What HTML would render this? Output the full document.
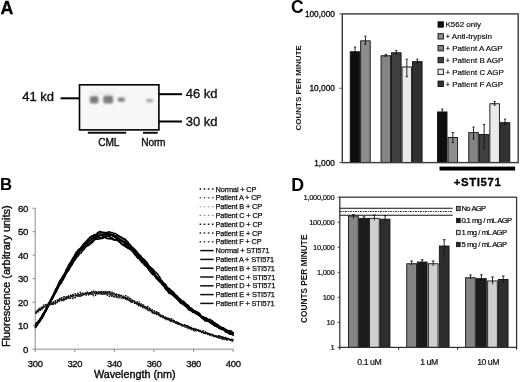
<!DOCTYPE html>
<html><head><meta charset="utf-8"><style>
html,body{margin:0;padding:0;background:#fff;}
body{width:520px;height:382px;overflow:hidden;}
svg{display:block;font-family:"Liberation Sans", sans-serif;}
</style></head><body>
<svg width="520" height="382" viewBox="0 0 520 382">
<defs><filter id="gb" x="0" y="0" width="100%" height="100%"><feGaussianBlur stdDeviation="0.3"/></filter></defs>
<g filter="url(#gb)">
<rect width="520" height="382" fill="#fff"/>
<text x="0.50" y="14.00" font-size="17.8" text-anchor="start" font-weight="bold" fill="#000" stroke="#000" stroke-width="0.3">A</text>
<text x="22.30" y="100.80" font-size="13.0" text-anchor="start" font-weight="normal" fill="#111" stroke="#111" stroke-width="0.35">41 kd</text>
<line x1="60.50" y1="98.30" x2="79.50" y2="98.30" stroke="#000" stroke-width="2.0" />
<rect x="79.50" y="84.80" width="79.40" height="45.10" fill="#f7f7f7" stroke="#000" stroke-width="1.6" />
<defs><filter id="bl" x="-50%" y="-50%" width="200%" height="200%"><feGaussianBlur stdDeviation="1.1"/></filter><filter id="bl2" x="-50%" y="-50%" width="200%" height="200%"><feGaussianBlur stdDeviation="0.9"/></filter></defs>
<g filter="url(#bl)">
<rect x="89.9" y="96.0" width="8.6" height="7.6" rx="2" fill="#7a7a7a"/>
<rect x="103.3" y="95.6" width="9.8" height="8.0" rx="2" fill="#7b7b7b"/>
<rect x="117.6" y="97.4" width="7.4" height="4.4" rx="1.8" fill="#7e7e7e"/>
<rect x="146.0" y="98.9" width="7.2" height="3.3" rx="1.4" fill="#a2a2a2"/>
<rect x="89" y="92" width="25" height="3" fill="#ececec"/>
</g>
<line x1="158.90" y1="94.20" x2="182.00" y2="94.20" stroke="#000" stroke-width="2.0" />
<line x1="158.90" y1="121.50" x2="182.00" y2="121.50" stroke="#000" stroke-width="2.0" />
<text x="185.80" y="98.00" font-size="13.0" text-anchor="start" font-weight="normal" fill="#111" stroke="#111" stroke-width="0.35">46 kd</text>
<text x="185.80" y="126.20" font-size="13.0" text-anchor="start" font-weight="normal" fill="#111" stroke="#111" stroke-width="0.35">30 kd</text>
<line x1="87.80" y1="132.80" x2="126.20" y2="132.80" stroke="#111" stroke-width="2.0" />
<line x1="143.00" y1="132.80" x2="157.70" y2="132.80" stroke="#111" stroke-width="2.0" />
<text x="98.30" y="145.60" font-size="10.2" text-anchor="start" font-weight="normal" fill="#111" stroke="#111" stroke-width="0.35" letter-spacing="-0.2">CML</text>
<text x="141.30" y="145.60" font-size="10.2" text-anchor="start" font-weight="normal" fill="#111" stroke="#111" stroke-width="0.35" letter-spacing="-0.2">Norm</text>
<text x="0.10" y="190.10" font-size="16.8" text-anchor="start" font-weight="bold" fill="#000" >B</text>
<line x1="35.20" y1="208.20" x2="35.20" y2="349.20" stroke="#8a8a8a" stroke-width="1" />
<line x1="35.20" y1="349.20" x2="233.20" y2="349.20" stroke="#8a8a8a" stroke-width="1" />
<line x1="32.50" y1="349.20" x2="35.20" y2="349.20" stroke="#8a8a8a" stroke-width="1" />
<text x="28.20" y="352.60" font-size="9.6" text-anchor="end" font-weight="normal" fill="#111" stroke="#111" stroke-width="0.35" letter-spacing="-0.2">0</text>
<line x1="32.50" y1="325.70" x2="35.20" y2="325.70" stroke="#8a8a8a" stroke-width="1" />
<text x="28.20" y="329.10" font-size="9.6" text-anchor="end" font-weight="normal" fill="#111" stroke="#111" stroke-width="0.35" letter-spacing="-0.2">10</text>
<line x1="32.50" y1="302.20" x2="35.20" y2="302.20" stroke="#8a8a8a" stroke-width="1" />
<text x="28.20" y="305.60" font-size="9.6" text-anchor="end" font-weight="normal" fill="#111" stroke="#111" stroke-width="0.35" letter-spacing="-0.2">20</text>
<line x1="32.50" y1="278.70" x2="35.20" y2="278.70" stroke="#8a8a8a" stroke-width="1" />
<text x="28.20" y="282.10" font-size="9.6" text-anchor="end" font-weight="normal" fill="#111" stroke="#111" stroke-width="0.35" letter-spacing="-0.2">30</text>
<line x1="32.50" y1="255.20" x2="35.20" y2="255.20" stroke="#8a8a8a" stroke-width="1" />
<text x="28.20" y="258.60" font-size="9.6" text-anchor="end" font-weight="normal" fill="#111" stroke="#111" stroke-width="0.35" letter-spacing="-0.2">40</text>
<line x1="32.50" y1="231.70" x2="35.20" y2="231.70" stroke="#8a8a8a" stroke-width="1" />
<text x="28.20" y="235.10" font-size="9.6" text-anchor="end" font-weight="normal" fill="#111" stroke="#111" stroke-width="0.35" letter-spacing="-0.2">50</text>
<line x1="32.50" y1="208.20" x2="35.20" y2="208.20" stroke="#8a8a8a" stroke-width="1" />
<text x="28.20" y="211.60" font-size="9.6" text-anchor="end" font-weight="normal" fill="#111" stroke="#111" stroke-width="0.35" letter-spacing="-0.2">60</text>
<line x1="35.20" y1="349.20" x2="35.20" y2="352.00" stroke="#8a8a8a" stroke-width="1" />
<text x="35.20" y="366.70" font-size="9.4" text-anchor="middle" font-weight="normal" fill="#111" stroke="#111" stroke-width="0.35" letter-spacing="-0.3">300</text>
<line x1="74.80" y1="349.20" x2="74.80" y2="352.00" stroke="#8a8a8a" stroke-width="1" />
<text x="74.80" y="366.70" font-size="9.4" text-anchor="middle" font-weight="normal" fill="#111" stroke="#111" stroke-width="0.35" letter-spacing="-0.3">320</text>
<line x1="114.40" y1="349.20" x2="114.40" y2="352.00" stroke="#8a8a8a" stroke-width="1" />
<text x="114.40" y="366.70" font-size="9.4" text-anchor="middle" font-weight="normal" fill="#111" stroke="#111" stroke-width="0.35" letter-spacing="-0.3">340</text>
<line x1="154.00" y1="349.20" x2="154.00" y2="352.00" stroke="#8a8a8a" stroke-width="1" />
<text x="154.00" y="366.70" font-size="9.4" text-anchor="middle" font-weight="normal" fill="#111" stroke="#111" stroke-width="0.35" letter-spacing="-0.3">360</text>
<line x1="193.60" y1="349.20" x2="193.60" y2="352.00" stroke="#8a8a8a" stroke-width="1" />
<text x="193.60" y="366.70" font-size="9.4" text-anchor="middle" font-weight="normal" fill="#111" stroke="#111" stroke-width="0.35" letter-spacing="-0.3">380</text>
<line x1="233.20" y1="349.20" x2="233.20" y2="352.00" stroke="#8a8a8a" stroke-width="1" />
<text x="233.20" y="366.70" font-size="9.4" text-anchor="middle" font-weight="normal" fill="#111" stroke="#111" stroke-width="0.35" letter-spacing="-0.3">400</text>
<text x="134.80" y="378.20" font-size="10.8" text-anchor="middle" font-weight="normal" fill="#111" stroke="#111" stroke-width="0.4">Wavelength (nm)</text>
<text transform="translate(10.2,276.3) rotate(-90)" font-size="10.9" text-anchor="middle" fill="#111" stroke="#111" stroke-width="0.4">Fluorescence (arbitrary units)</text>
<path d="M35.30,327.23 L36.30,325.44 L37.29,323.91 L38.29,323.06 L39.28,321.69 L40.28,320.08 L41.28,319.07 L42.27,317.56 L43.27,315.44 L44.26,313.59 L45.26,312.12 L46.26,310.48 L47.25,308.08 L48.25,306.10 L49.24,303.94 L50.24,301.66 L51.24,298.87 L52.23,297.48 L53.23,295.35 L54.22,294.36 L55.22,293.09 L56.22,291.89 L57.21,289.17 L58.21,287.62 L59.20,285.67 L60.20,283.83 L61.20,281.49 L62.19,280.48 L63.19,278.51 L64.18,276.44 L65.18,275.05 L66.18,273.58 L67.17,272.04 L68.17,271.06 L69.16,269.48 L70.16,267.37 L71.16,266.11 L72.15,264.56 L73.15,262.19 L74.14,260.93 L75.14,260.02 L76.14,257.94 L77.13,256.85 L78.13,256.02 L79.12,254.43 L80.12,253.42 L81.12,253.10 L82.11,251.14 L83.11,250.02 L84.10,249.44 L85.10,247.59 L86.09,246.62 L87.09,246.17 L88.09,245.56 L89.08,245.10 L90.08,244.18 L91.07,243.31 L92.07,242.52 L93.07,241.72 L94.06,240.16 L95.06,239.71 L96.05,239.11 L97.05,239.25 L98.05,239.30 L99.04,238.94 L100.04,238.60 L101.03,238.72 L102.03,237.43 L103.03,236.69 L104.02,237.09 L105.02,237.85 L106.01,237.88 L107.01,238.58 L108.01,238.71 L109.00,238.79 L110.00,239.07 L110.99,238.85 L111.99,239.11 L112.99,239.69 L113.98,240.07 L114.98,239.78 L115.97,239.92 L116.97,240.48 L117.97,240.66 L118.96,241.68 L119.96,242.57 L120.95,243.58 L121.95,244.47 L122.95,245.17 L123.94,245.82 L124.94,246.29 L125.93,247.29 L126.93,247.32 L127.93,248.40 L128.92,248.19 L129.92,248.28 L130.91,248.84 L131.91,249.92 L132.91,250.81 L133.90,253.31 L134.90,254.77 L135.89,255.67 L136.89,257.13 L137.89,258.31 L138.88,258.44 L139.88,259.76 L140.87,261.37 L141.87,262.60 L142.87,263.12 L143.86,264.28 L144.86,265.51 L145.85,265.96 L146.85,267.00 L147.85,268.22 L148.84,269.77 L149.84,270.98 L150.83,272.57 L151.83,273.39 L152.83,274.81 L153.82,274.80 L154.82,275.41 L155.81,276.64 L156.81,277.15 L157.81,278.63 L158.80,279.83 L159.80,281.64 L160.79,282.25 L161.79,284.44 L162.79,285.22 L163.78,286.35 L164.78,287.57 L165.77,289.49 L166.77,290.17 L167.77,291.02 L168.76,292.54 L169.76,292.66 L170.75,293.49 L171.75,294.26 L172.75,295.30 L173.74,295.98 L174.74,297.04 L175.73,297.02 L176.73,298.62 L177.73,299.46 L178.72,301.01 L179.72,302.12 L180.71,303.18 L181.71,303.40 L182.71,304.06 L183.70,304.49 L184.70,305.13 L185.69,306.06 L186.69,306.41 L187.68,307.07 L188.68,308.45 L189.68,309.07 L190.67,309.50 L191.67,310.87 L192.66,312.43 L193.66,311.91 L194.66,312.77 L195.65,313.60 L196.65,313.45 L197.64,313.83 L198.64,315.03 L199.64,315.77 L200.63,316.35 L201.63,317.83 L202.62,317.94 L203.62,318.50 L204.62,318.63 L205.61,319.04 L206.61,319.96 L207.60,320.55 L208.60,321.29 L209.60,322.26 L210.59,323.12 L211.59,322.96 L212.58,323.95 L213.58,324.26 L214.58,324.75 L215.57,325.46 L216.57,326.64 L217.56,327.19 L218.56,327.98 L219.56,328.34 L220.55,328.31 L221.55,328.73 L222.54,329.35 L223.54,329.66 L224.54,330.60 L225.53,331.94 L226.53,332.40 L227.52,332.89 L228.52,333.27 L229.52,334.15 L230.51,333.87 L231.51,334.38 L232.50,334.72 L233.50,335.74" fill="none" stroke="#050505" stroke-width="1.55" stroke-linejoin="round"/>
<path d="M35.30,328.00 L36.30,325.55 L37.29,323.56 L38.29,322.78 L39.28,321.26 L40.28,318.64 L41.28,317.49 L42.27,315.88 L43.27,313.83 L44.26,312.74 L45.26,311.47 L46.26,309.09 L47.25,307.26 L48.25,305.22 L49.24,302.82 L50.24,301.50 L51.24,300.19 L52.23,298.57 L53.23,296.72 L54.22,295.22 L55.22,292.83 L56.22,290.68 L57.21,288.75 L58.21,286.97 L59.20,285.48 L60.20,284.12 L61.20,283.33 L62.19,280.94 L63.19,279.73 L64.18,277.77 L65.18,275.86 L66.18,272.86 L67.17,271.45 L68.17,269.69 L69.16,268.00 L70.16,266.37 L71.16,265.15 L72.15,264.13 L73.15,262.28 L74.14,259.99 L75.14,258.22 L76.14,256.16 L77.13,253.17 L78.13,251.62 L79.12,251.56 L80.12,250.55 L81.12,249.61 L82.11,249.27 L83.11,248.75 L84.10,247.27 L85.10,246.26 L86.09,245.71 L87.09,245.16 L88.09,244.19 L89.08,243.54 L90.08,242.85 L91.07,241.81 L92.07,241.33 L93.07,240.20 L94.06,239.86 L95.06,238.83 L96.05,238.71 L97.05,238.12 L98.05,237.54 L99.04,237.46 L100.04,238.19 L101.03,237.86 L102.03,237.97 L103.03,238.46 L104.02,236.83 L105.02,236.36 L106.01,236.52 L107.01,236.32 L108.01,235.89 L109.00,236.87 L110.00,236.90 L110.99,237.56 L111.99,237.91 L112.99,238.60 L113.98,239.58 L114.98,239.82 L115.97,239.67 L116.97,239.35 L117.97,240.40 L118.96,240.73 L119.96,241.82 L120.95,242.79 L121.95,244.12 L122.95,244.30 L123.94,244.56 L124.94,244.89 L125.93,245.44 L126.93,246.74 L127.93,247.70 L128.92,248.62 L129.92,249.38 L130.91,250.04 L131.91,251.02 L132.91,251.96 L133.90,252.99 L134.90,254.08 L135.89,254.94 L136.89,255.39 L137.89,256.58 L138.88,257.50 L139.88,258.63 L140.87,260.05 L141.87,261.23 L142.87,261.48 L143.86,262.67 L144.86,263.59 L145.85,265.13 L146.85,265.97 L147.85,267.91 L148.84,269.70 L149.84,271.05 L150.83,271.67 L151.83,273.18 L152.83,274.12 L153.82,274.37 L154.82,275.78 L155.81,277.86 L156.81,278.82 L157.81,279.86 L158.80,280.95 L159.80,282.00 L160.79,281.91 L161.79,282.68 L162.79,284.28 L163.78,285.39 L164.78,286.71 L165.77,288.73 L166.77,290.25 L167.77,291.00 L168.76,293.03 L169.76,293.56 L170.75,293.78 L171.75,294.16 L172.75,294.94 L173.74,295.71 L174.74,297.05 L175.73,297.84 L176.73,298.93 L177.73,299.62 L178.72,300.07 L179.72,300.52 L180.71,301.79 L181.71,303.04 L182.71,303.93 L183.70,304.63 L184.70,305.57 L185.69,306.25 L186.69,307.10 L187.68,308.64 L188.68,309.62 L189.68,310.30 L190.67,310.45 L191.67,311.13 L192.66,310.46 L193.66,310.44 L194.66,311.41 L195.65,312.95 L196.65,313.42 L197.64,314.16 L198.64,315.18 L199.64,315.27 L200.63,315.88 L201.63,317.36 L202.62,318.67 L203.62,319.13 L204.62,319.55 L205.61,319.90 L206.61,319.61 L207.60,319.70 L208.60,320.60 L209.60,321.17 L210.59,322.15 L211.59,323.15 L212.58,324.51 L213.58,324.84 L214.58,325.98 L215.57,326.08 L216.57,326.09 L217.56,326.11 L218.56,326.34 L219.56,326.16 L220.55,327.02 L221.55,327.61 L222.54,328.32 L223.54,329.66 L224.54,330.07 L225.53,330.02 L226.53,330.66 L227.52,331.23 L228.52,331.24 L229.52,332.74 L230.51,333.61 L231.51,333.62 L232.50,333.65 L233.50,334.59" fill="none" stroke="#050505" stroke-width="1.55" stroke-linejoin="round"/>
<path d="M35.30,328.03 L36.30,326.27 L37.29,325.43 L38.29,322.94 L39.28,322.16 L40.28,319.98 L41.28,319.13 L42.27,317.34 L43.27,316.17 L44.26,312.80 L45.26,310.99 L46.26,308.99 L47.25,306.98 L48.25,305.54 L49.24,304.51 L50.24,302.42 L51.24,300.00 L52.23,298.45 L53.23,296.15 L54.22,293.94 L55.22,292.15 L56.22,290.36 L57.21,288.26 L58.21,285.90 L59.20,284.22 L60.20,283.04 L61.20,280.70 L62.19,279.26 L63.19,277.69 L64.18,275.51 L65.18,273.70 L66.18,272.32 L67.17,271.15 L68.17,269.37 L69.16,268.20 L70.16,266.09 L71.16,264.35 L72.15,262.37 L73.15,261.03 L74.14,259.57 L75.14,258.13 L76.14,256.53 L77.13,254.83 L78.13,253.53 L79.12,252.33 L80.12,250.70 L81.12,249.88 L82.11,248.06 L83.11,247.17 L84.10,245.29 L85.10,243.92 L86.09,242.95 L87.09,243.15 L88.09,241.44 L89.08,240.63 L90.08,240.30 L91.07,239.17 L92.07,238.24 L93.07,237.92 L94.06,237.52 L95.06,237.54 L96.05,237.24 L97.05,236.86 L98.05,236.44 L99.04,235.94 L100.04,234.72 L101.03,235.54 L102.03,235.08 L103.03,235.43 L104.02,235.82 L105.02,236.57 L106.01,235.87 L107.01,236.80 L108.01,236.39 L109.00,235.93 L110.00,235.65 L110.99,235.32 L111.99,235.13 L112.99,236.16 L113.98,236.74 L114.98,236.97 L115.97,237.77 L116.97,238.48 L117.97,237.54 L118.96,238.66 L119.96,239.35 L120.95,240.51 L121.95,240.17 L122.95,241.84 L123.94,241.75 L124.94,242.53 L125.93,243.44 L126.93,245.00 L127.93,245.79 L128.92,246.91 L129.92,247.44 L130.91,247.67 L131.91,248.28 L132.91,249.38 L133.90,250.68 L134.90,252.00 L135.89,253.17 L136.89,254.22 L137.89,255.84 L138.88,257.70 L139.88,259.19 L140.87,260.03 L141.87,261.15 L142.87,261.54 L143.86,261.66 L144.86,262.84 L145.85,263.90 L146.85,265.33 L147.85,266.69 L148.84,268.26 L149.84,269.38 L150.83,270.67 L151.83,271.23 L152.83,272.34 L153.82,273.18 L154.82,274.50 L155.81,275.93 L156.81,276.90 L157.81,278.15 L158.80,278.95 L159.80,279.73 L160.79,280.71 L161.79,281.51 L162.79,282.60 L163.78,284.26 L164.78,285.49 L165.77,286.49 L166.77,288.19 L167.77,288.79 L168.76,289.64 L169.76,290.48 L170.75,291.68 L171.75,292.32 L172.75,293.77 L173.74,294.88 L174.74,295.98 L175.73,296.70 L176.73,298.30 L177.73,298.46 L178.72,299.47 L179.72,300.49 L180.71,301.64 L181.71,302.42 L182.71,303.65 L183.70,304.18 L184.70,305.15 L185.69,306.00 L186.69,306.71 L187.68,307.14 L188.68,308.21 L189.68,309.17 L190.67,310.13 L191.67,310.86 L192.66,311.56 L193.66,312.42 L194.66,312.59 L195.65,311.88 L196.65,312.61 L197.64,313.30 L198.64,313.07 L199.64,313.52 L200.63,315.66 L201.63,316.00 L202.62,317.31 L203.62,319.13 L204.62,320.61 L205.61,320.67 L206.61,321.31 L207.60,321.29 L208.60,320.91 L209.60,321.02 L210.59,321.79 L211.59,322.49 L212.58,323.94 L213.58,324.46 L214.58,324.82 L215.57,325.49 L216.57,326.22 L217.56,326.79 L218.56,327.78 L219.56,328.21 L220.55,328.59 L221.55,328.49 L222.54,327.94 L223.54,328.53 L224.54,329.15 L225.53,329.65 L226.53,329.89 L227.52,330.91 L228.52,330.96 L229.52,331.15 L230.51,330.65 L231.51,331.70 L232.50,332.72 L233.50,333.62" fill="none" stroke="#050505" stroke-width="1.55" stroke-linejoin="round"/>
<path d="M35.30,326.28 L36.30,325.19 L37.29,323.93 L38.29,322.69 L39.28,322.32 L40.28,320.86 L41.28,319.15 L42.27,317.52 L43.27,315.14 L44.26,313.06 L45.26,311.49 L46.26,310.23 L47.25,308.14 L48.25,306.48 L49.24,304.72 L50.24,303.01 L51.24,300.55 L52.23,299.18 L53.23,297.02 L54.22,295.02 L55.22,292.66 L56.22,291.02 L57.21,289.01 L58.21,286.95 L59.20,284.85 L60.20,283.13 L61.20,280.82 L62.19,278.18 L63.19,277.12 L64.18,275.72 L65.18,273.96 L66.18,272.22 L67.17,271.23 L68.17,269.09 L69.16,267.55 L70.16,265.43 L71.16,263.65 L72.15,261.76 L73.15,260.03 L74.14,258.34 L75.14,257.17 L76.14,255.67 L77.13,254.19 L78.13,252.90 L79.12,251.63 L80.12,250.06 L81.12,248.96 L82.11,248.12 L83.11,247.77 L84.10,247.02 L85.10,246.21 L86.09,245.44 L87.09,244.62 L88.09,243.03 L89.08,241.31 L90.08,240.57 L91.07,239.94 L92.07,238.56 L93.07,237.49 L94.06,236.79 L95.06,236.46 L96.05,235.63 L97.05,235.44 L98.05,235.65 L99.04,235.97 L100.04,235.40 L101.03,235.57 L102.03,235.17 L103.03,234.87 L104.02,234.29 L105.02,234.71 L106.01,234.56 L107.01,234.66 L108.01,234.76 L109.00,235.14 L110.00,235.19 L110.99,234.93 L111.99,235.11 L112.99,235.40 L113.98,236.59 L114.98,237.05 L115.97,237.93 L116.97,238.92 L117.97,240.17 L118.96,239.86 L119.96,240.02 L120.95,241.04 L121.95,241.61 L122.95,241.87 L123.94,242.50 L124.94,243.95 L125.93,244.88 L126.93,245.72 L127.93,246.57 L128.92,246.98 L129.92,247.49 L130.91,247.83 L131.91,248.75 L132.91,249.73 L133.90,251.25 L134.90,251.56 L135.89,252.78 L136.89,253.49 L137.89,254.26 L138.88,255.28 L139.88,256.80 L140.87,257.11 L141.87,258.85 L142.87,260.17 L143.86,261.85 L144.86,263.73 L145.85,265.61 L146.85,265.86 L147.85,266.69 L148.84,267.16 L149.84,267.58 L150.83,268.78 L151.83,269.89 L152.83,271.45 L153.82,272.52 L154.82,273.93 L155.81,275.03 L156.81,276.69 L157.81,277.70 L158.80,279.12 L159.80,279.96 L160.79,280.58 L161.79,281.76 L162.79,283.44 L163.78,285.28 L164.78,286.94 L165.77,288.72 L166.77,289.57 L167.77,290.48 L168.76,290.87 L169.76,291.46 L170.75,292.15 L171.75,293.37 L172.75,293.76 L173.74,294.71 L174.74,295.35 L175.73,296.26 L176.73,297.85 L177.73,298.87 L178.72,299.71 L179.72,301.09 L180.71,302.29 L181.71,302.10 L182.71,302.90 L183.70,304.08 L184.70,304.81 L185.69,305.43 L186.69,307.04 L187.68,307.67 L188.68,308.17 L189.68,308.68 L190.67,309.84 L191.67,309.50 L192.66,310.22 L193.66,310.74 L194.66,311.80 L195.65,312.22 L196.65,313.92 L197.64,314.31 L198.64,315.37 L199.64,315.72 L200.63,315.98 L201.63,316.35 L202.62,317.18 L203.62,316.93 L204.62,317.52 L205.61,317.87 L206.61,318.10 L207.60,319.09 L208.60,320.40 L209.60,321.58 L210.59,322.55 L211.59,322.84 L212.58,323.06 L213.58,323.24 L214.58,322.94 L215.57,323.68 L216.57,324.50 L217.56,324.66 L218.56,325.69 L219.56,326.57 L220.55,327.07 L221.55,327.83 L222.54,329.16 L223.54,329.48 L224.54,330.41 L225.53,330.95 L226.53,331.56 L227.52,332.01 L228.52,332.07 L229.52,332.16 L230.51,332.47 L231.51,332.93 L232.50,332.91 L233.50,334.37" fill="none" stroke="#050505" stroke-width="1.55" stroke-linejoin="round"/>
<path d="M35.30,325.88 L36.30,324.15 L37.29,323.10 L38.29,321.92 L39.28,320.62 L40.28,318.80 L41.28,317.38 L42.27,316.00 L43.27,315.37 L44.26,313.11 L45.26,311.44 L46.26,309.38 L47.25,307.51 L48.25,304.44 L49.24,302.77 L50.24,301.05 L51.24,299.14 L52.23,296.67 L53.23,295.00 L54.22,292.56 L55.22,290.19 L56.22,288.47 L57.21,286.94 L58.21,285.13 L59.20,283.35 L60.20,281.78 L61.20,280.31 L62.19,278.57 L63.19,276.75 L64.18,275.20 L65.18,273.74 L66.18,271.47 L67.17,269.11 L68.17,267.11 L69.16,266.15 L70.16,264.31 L71.16,263.21 L72.15,261.80 L73.15,260.77 L74.14,258.51 L75.14,256.85 L76.14,255.80 L77.13,254.77 L78.13,252.88 L79.12,251.70 L80.12,250.55 L81.12,248.87 L82.11,247.25 L83.11,245.68 L84.10,244.53 L85.10,243.39 L86.09,242.04 L87.09,241.72 L88.09,241.54 L89.08,241.09 L90.08,239.95 L91.07,239.49 L92.07,239.10 L93.07,238.64 L94.06,237.89 L95.06,237.81 L96.05,237.66 L97.05,236.24 L98.05,235.58 L99.04,235.34 L100.04,235.27 L101.03,234.31 L102.03,234.55 L103.03,234.37 L104.02,234.18 L105.02,233.85 L106.01,233.62 L107.01,233.57 L108.01,234.05 L109.00,233.83 L110.00,233.98 L110.99,234.81 L111.99,234.72 L112.99,234.79 L113.98,235.11 L114.98,235.96 L115.97,236.93 L116.97,238.43 L117.97,238.80 L118.96,239.94 L119.96,240.18 L120.95,240.05 L121.95,240.54 L122.95,240.86 L123.94,241.69 L124.94,242.38 L125.93,243.61 L126.93,243.97 L127.93,245.04 L128.92,245.66 L129.92,246.84 L130.91,247.31 L131.91,248.38 L132.91,249.42 L133.90,249.62 L134.90,250.71 L135.89,251.99 L136.89,252.95 L137.89,254.24 L138.88,256.41 L139.88,257.07 L140.87,257.74 L141.87,258.77 L142.87,260.30 L143.86,260.66 L144.86,262.38 L145.85,263.58 L146.85,264.46 L147.85,265.67 L148.84,267.30 L149.84,267.65 L150.83,268.93 L151.83,270.80 L152.83,271.96 L153.82,273.03 L154.82,274.77 L155.81,276.29 L156.81,276.92 L157.81,277.79 L158.80,279.05 L159.80,279.86 L160.79,280.57 L161.79,281.92 L162.79,282.90 L163.78,283.81 L164.78,284.92 L165.77,286.52 L166.77,287.62 L167.77,288.94 L168.76,290.56 L169.76,291.92 L170.75,293.31 L171.75,293.95 L172.75,294.91 L173.74,295.37 L174.74,296.74 L175.73,297.49 L176.73,298.04 L177.73,298.36 L178.72,299.59 L179.72,300.12 L180.71,300.68 L181.71,302.17 L182.71,303.49 L183.70,304.32 L184.70,304.85 L185.69,305.75 L186.69,305.81 L187.68,306.65 L188.68,306.86 L189.68,307.96 L190.67,308.29 L191.67,309.48 L192.66,310.12 L193.66,310.87 L194.66,310.95 L195.65,311.20 L196.65,312.17 L197.64,312.88 L198.64,314.20 L199.64,315.11 L200.63,316.63 L201.63,317.29 L202.62,317.72 L203.62,318.20 L204.62,319.21 L205.61,319.36 L206.61,319.87 L207.60,320.44 L208.60,320.87 L209.60,320.80 L210.59,321.83 L211.59,322.35 L212.58,323.13 L213.58,323.38 L214.58,324.36 L215.57,324.70 L216.57,325.24 L217.56,326.31 L218.56,327.25 L219.56,328.27 L220.55,328.99 L221.55,329.44 L222.54,329.17 L223.54,329.72 L224.54,329.67 L225.53,329.89 L226.53,330.54 L227.52,330.59 L228.52,330.89 L229.52,330.64 L230.51,331.27 L231.51,331.65 L232.50,332.54 L233.50,333.06" fill="none" stroke="#050505" stroke-width="1.55" stroke-linejoin="round"/>
<path d="M35.30,324.87 L36.30,323.02 L37.29,322.45 L38.29,321.11 L39.28,320.05 L40.28,318.63 L41.28,317.36 L42.27,315.07 L43.27,313.66 L44.26,311.88 L45.26,311.06 L46.26,309.23 L47.25,307.54 L48.25,305.41 L49.24,303.55 L50.24,301.06 L51.24,299.37 L52.23,297.41 L53.23,296.34 L54.22,293.63 L55.22,291.69 L56.22,289.79 L57.21,287.77 L58.21,285.07 L59.20,283.68 L60.20,281.44 L61.20,279.30 L62.19,278.27 L63.19,276.99 L64.18,274.87 L65.18,273.18 L66.18,271.19 L67.17,268.95 L68.17,266.56 L69.16,264.94 L70.16,263.76 L71.16,262.45 L72.15,260.37 L73.15,258.65 L74.14,256.80 L75.14,254.76 L76.14,252.30 L77.13,251.18 L78.13,249.91 L79.12,249.16 L80.12,248.63 L81.12,248.42 L82.11,246.62 L83.11,245.92 L84.10,245.03 L85.10,243.18 L86.09,241.53 L87.09,240.92 L88.09,239.28 L89.08,238.55 L90.08,237.27 L91.07,236.50 L92.07,235.78 L93.07,235.59 L94.06,234.63 L95.06,234.94 L96.05,234.75 L97.05,234.77 L98.05,233.82 L99.04,233.45 L100.04,232.88 L101.03,232.77 L102.03,232.32 L103.03,232.57 L104.02,232.29 L105.02,232.72 L106.01,232.80 L107.01,232.58 L108.01,233.59 L109.00,234.64 L110.00,234.13 L110.99,234.34 L111.99,235.59 L112.99,235.51 L113.98,235.22 L114.98,236.00 L115.97,236.17 L116.97,235.80 L117.97,235.89 L118.96,236.60 L119.96,237.12 L120.95,237.77 L121.95,238.12 L122.95,238.97 L123.94,239.19 L124.94,240.02 L125.93,241.27 L126.93,242.58 L127.93,243.61 L128.92,244.89 L129.92,245.88 L130.91,246.47 L131.91,247.24 L132.91,248.31 L133.90,248.89 L134.90,250.33 L135.89,251.45 L136.89,252.39 L137.89,253.11 L138.88,254.35 L139.88,255.12 L140.87,256.04 L141.87,257.78 L142.87,258.86 L143.86,259.54 L144.86,260.45 L145.85,261.24 L146.85,262.08 L147.85,263.84 L148.84,265.94 L149.84,266.96 L150.83,268.54 L151.83,270.30 L152.83,271.27 L153.82,272.26 L154.82,274.18 L155.81,276.35 L156.81,277.37 L157.81,278.47 L158.80,279.72 L159.80,280.72 L160.79,280.90 L161.79,281.29 L162.79,282.37 L163.78,283.06 L164.78,283.94 L165.77,285.23 L166.77,287.34 L167.77,288.11 L168.76,289.40 L169.76,290.40 L170.75,291.52 L171.75,292.12 L172.75,293.22 L173.74,293.98 L174.74,294.49 L175.73,295.02 L176.73,295.80 L177.73,296.89 L178.72,297.74 L179.72,299.03 L180.71,300.20 L181.71,301.06 L182.71,301.72 L183.70,302.79 L184.70,303.18 L185.69,303.63 L186.69,304.77 L187.68,305.07 L188.68,305.82 L189.68,307.21 L190.67,308.21 L191.67,308.20 L192.66,309.59 L193.66,310.41 L194.66,311.03 L195.65,311.27 L196.65,312.16 L197.64,312.60 L198.64,313.10 L199.64,313.86 L200.63,315.29 L201.63,316.26 L202.62,317.01 L203.62,318.09 L204.62,319.00 L205.61,319.77 L206.61,320.53 L207.60,321.24 L208.60,321.50 L209.60,321.98 L210.59,321.79 L211.59,322.00 L212.58,322.46 L213.58,322.96 L214.58,322.73 L215.57,323.44 L216.57,323.92 L217.56,324.91 L218.56,325.88 L219.56,326.93 L220.55,327.69 L221.55,327.98 L222.54,328.36 L223.54,328.51 L224.54,329.26 L225.53,330.39 L226.53,331.16 L227.52,331.10 L228.52,331.44 L229.52,331.33 L230.51,330.95 L231.51,331.89 L232.50,332.95 L233.50,333.27" fill="none" stroke="#050505" stroke-width="1.55" stroke-linejoin="round"/>
<path d="M35.30,326.67 L36.30,325.08 L37.29,323.37 L38.29,322.26 L39.28,321.22 L40.28,320.03 L41.28,318.67 L42.27,316.96 L43.27,314.42 L44.26,312.25 L45.26,310.19 L46.26,307.85 L47.25,306.08 L48.25,304.57 L49.24,302.45 L50.24,300.89 L51.24,299.29 L52.23,297.17 L53.23,295.62 L54.22,294.28 L55.22,292.01 L56.22,289.14 L57.21,286.93 L58.21,284.58 L59.20,282.04 L60.20,280.06 L61.20,279.23 L62.19,277.38 L63.19,275.28 L64.18,274.29 L65.18,272.24 L66.18,269.68 L67.17,268.07 L68.17,266.74 L69.16,264.15 L70.16,262.78 L71.16,261.29 L72.15,259.27 L73.15,257.56 L74.14,256.39 L75.14,254.40 L76.14,253.12 L77.13,251.89 L78.13,251.24 L79.12,249.42 L80.12,248.68 L81.12,247.29 L82.11,246.05 L83.11,244.26 L84.10,243.62 L85.10,242.53 L86.09,241.65 L87.09,240.56 L88.09,239.30 L89.08,238.35 L90.08,237.37 L91.07,236.96 L92.07,236.59 L93.07,236.45 L94.06,236.18 L95.06,235.54 L96.05,234.21 L97.05,233.32 L98.05,232.21 L99.04,231.91 L100.04,231.34 L101.03,231.93 L102.03,232.28 L103.03,233.09 L104.02,232.84 L105.02,233.02 L106.01,232.61 L107.01,232.51 L108.01,232.16 L109.00,231.84 L110.00,232.05 L110.99,232.82 L111.99,232.56 L112.99,232.90 L113.98,233.14 L114.98,233.60 L115.97,233.80 L116.97,234.76 L117.97,235.43 L118.96,235.78 L119.96,236.64 L120.95,236.83 L121.95,237.70 L122.95,238.22 L123.94,238.66 L124.94,238.87 L125.93,239.92 L126.93,241.03 L127.93,241.93 L128.92,243.68 L129.92,244.41 L130.91,245.73 L131.91,246.79 L132.91,247.72 L133.90,248.61 L134.90,249.60 L135.89,250.52 L136.89,251.88 L137.89,253.19 L138.88,254.76 L139.88,256.55 L140.87,257.15 L141.87,257.91 L142.87,258.51 L143.86,259.27 L144.86,260.38 L145.85,262.14 L146.85,263.08 L147.85,264.77 L148.84,265.82 L149.84,266.57 L150.83,267.53 L151.83,268.41 L152.83,269.11 L153.82,270.16 L154.82,271.60 L155.81,272.21 L156.81,273.20 L157.81,274.27 L158.80,275.86 L159.80,277.27 L160.79,279.56 L161.79,280.64 L162.79,282.04 L163.78,283.36 L164.78,284.27 L165.77,284.66 L166.77,286.69 L167.77,287.85 L168.76,288.28 L169.76,288.99 L170.75,290.21 L171.75,290.81 L172.75,291.50 L173.74,292.53 L174.74,294.06 L175.73,295.09 L176.73,295.75 L177.73,297.28 L178.72,298.66 L179.72,298.88 L180.71,299.50 L181.71,300.70 L182.71,301.20 L183.70,301.25 L184.70,302.53 L185.69,303.67 L186.69,304.82 L187.68,305.14 L188.68,307.34 L189.68,307.86 L190.67,308.68 L191.67,309.33 L192.66,311.01 L193.66,311.00 L194.66,311.71 L195.65,312.32 L196.65,312.44 L197.64,312.08 L198.64,313.56 L199.64,314.78 L200.63,315.80 L201.63,316.39 L202.62,318.22 L203.62,318.49 L204.62,319.37 L205.61,319.44 L206.61,319.97 L207.60,320.09 L208.60,319.56 L209.60,319.19 L210.59,319.81 L211.59,320.46 L212.58,321.04 L213.58,322.23 L214.58,323.88 L215.57,324.80 L216.57,325.64 L217.56,326.61 L218.56,326.96 L219.56,326.84 L220.55,327.27 L221.55,327.45 L222.54,327.55 L223.54,327.93 L224.54,328.60 L225.53,329.35 L226.53,330.03 L227.52,330.72 L228.52,331.37 L229.52,331.53 L230.51,331.21 L231.51,332.40 L232.50,333.57 L233.50,334.51" fill="none" stroke="#050505" stroke-width="1.55" stroke-linejoin="round"/>
<path d="M35.40,313.35 L36.40,313.21 L37.39,312.38 L38.39,311.94 L39.38,311.24 L40.38,310.30 L41.37,309.45 L42.37,308.01 L43.36,307.50 L44.36,306.58 L45.35,306.63 L46.35,305.93 L47.35,305.98 L48.34,305.72 L49.34,305.08 L50.33,304.29 L51.33,303.34 L52.32,303.71 L53.32,304.21 L54.31,304.47 L55.31,303.68 L56.31,303.21 L57.30,301.97 L58.30,302.29 L59.29,301.16 L60.29,300.36 L61.28,300.45 L62.28,300.95 L63.27,301.28 L64.27,300.06 L65.26,299.11 L66.26,299.24 L67.26,298.36 L68.25,297.92 L69.25,297.80 L70.24,298.17 L71.24,298.61 L72.23,298.23 L73.23,298.78 L74.22,297.86 L75.22,297.71 L76.21,295.94 L77.21,295.54 L78.21,295.74 L79.20,295.90 L80.20,296.38 L81.19,295.70 L82.19,295.49 L83.18,295.02 L84.18,294.70 L85.17,294.77 L86.17,295.04 L87.16,295.34 L88.16,295.20 L89.16,294.49 L90.15,294.26 L91.15,294.35 L92.14,294.99 L93.14,295.79 L94.13,296.08 L95.13,295.65 L96.12,294.58 L97.12,293.94 L98.12,293.61 L99.11,293.31 L100.11,293.49 L101.10,293.70 L102.10,294.37 L103.09,294.42 L104.09,294.57 L105.08,293.92 L106.08,294.76 L107.07,295.12 L108.07,296.34 L109.07,296.15 L110.06,296.66 L111.06,296.07 L112.05,296.21 L113.05,296.84 L114.04,296.68 L115.04,297.06 L116.03,296.92 L117.03,297.76 L118.02,297.87 L119.02,298.00 L120.02,297.89 L121.01,298.07 L122.01,297.59 L123.00,297.92 L124.00,297.89 L124.99,298.52 L125.99,299.21 L126.98,300.00 L127.98,299.92 L128.97,301.02 L129.97,301.70 L130.97,302.94 L131.96,302.50 L132.96,302.49 L133.95,302.88 L134.95,303.63 L135.94,303.51 L136.94,304.06 L137.93,305.49 L138.93,305.92 L139.93,306.51 L140.92,306.05 L141.92,307.21 L142.91,307.86 L143.91,307.79 L144.90,308.40 L145.90,308.95 L146.89,309.84 L147.89,310.13 L148.88,310.14 L149.88,310.56 L150.88,311.82 L151.87,311.94 L152.87,312.95 L153.86,312.40 L154.86,313.49 L155.85,313.62 L156.85,313.62 L157.84,313.85 L158.84,313.97 L159.83,315.26 L160.83,316.31 L161.83,316.76 L162.82,317.00 L163.82,317.42 L164.81,318.34 L165.81,319.77 L166.80,319.80 L167.80,319.87 L168.79,319.70 L169.79,320.48 L170.78,321.60 L171.78,322.05 L172.78,322.03 L173.77,322.05 L174.77,322.25 L175.76,323.37 L176.76,323.83 L177.75,324.02 L178.75,323.52 L179.74,324.18 L180.74,325.25 L181.74,325.76 L182.73,325.62 L183.73,325.78 L184.72,325.58 L185.72,325.71 L186.71,326.38 L187.71,327.20 L188.70,328.19 L189.70,328.72 L190.69,329.50 L191.69,329.72 L192.69,330.42 L193.68,330.77 L194.68,330.98 L195.67,330.79 L196.67,331.03 L197.66,331.18 L198.66,331.26 L199.65,331.38 L200.65,331.28 L201.64,331.51 L202.64,331.78 L203.64,332.67 L204.63,332.43 L205.63,332.71 L206.62,333.16 L207.62,334.11 L208.61,334.12 L209.61,334.66 L210.60,334.45 L211.60,335.08 L212.59,335.61 L213.59,336.08 L214.59,336.24 L215.58,336.42 L216.58,336.80 L217.57,337.14 L218.57,337.08 L219.56,337.87 L220.56,337.40 L221.55,337.24 L222.55,336.71 L223.55,337.36 L224.54,337.59 L225.54,337.88 L226.53,338.62 L227.53,338.82 L228.52,339.40 L229.52,339.64 L230.51,339.91 L231.51,340.11 L232.50,340.77 L233.50,341.36" fill="none" stroke="#000" stroke-width="1.15" stroke-dasharray="1.6 1.0" stroke-dashoffset="0.00"/>
<path d="M35.40,312.53 L36.40,312.19 L37.39,311.88 L38.39,311.26 L39.38,310.42 L40.38,309.90 L41.37,309.43 L42.37,309.00 L43.36,307.57 L44.36,306.89 L45.35,306.07 L46.35,306.83 L47.35,306.49 L48.34,306.00 L49.34,304.45 L50.33,304.08 L51.33,304.11 L52.32,303.98 L53.32,304.44 L54.31,303.86 L55.31,303.96 L56.31,302.87 L57.30,302.65 L58.30,301.15 L59.29,300.63 L60.29,300.02 L61.28,300.17 L62.28,299.04 L63.27,299.10 L64.27,298.74 L65.26,299.12 L66.26,298.39 L67.26,298.17 L68.25,298.23 L69.25,297.57 L70.24,297.04 L71.24,296.74 L72.23,297.07 L73.23,297.05 L74.22,296.49 L75.22,295.88 L76.21,295.80 L77.21,296.29 L78.21,296.00 L79.20,296.44 L80.20,296.12 L81.19,296.19 L82.19,295.73 L83.18,294.66 L84.18,294.00 L85.17,293.04 L86.17,293.33 L87.16,293.76 L88.16,293.96 L89.16,294.05 L90.15,293.24 L91.15,293.56 L92.14,292.88 L93.14,293.40 L94.13,292.99 L95.13,293.05 L96.12,292.74 L97.12,292.48 L98.12,292.93 L99.11,293.70 L100.11,294.34 L101.10,293.98 L102.10,293.47 L103.09,292.93 L104.09,293.57 L105.08,293.15 L106.08,294.09 L107.07,293.82 L108.07,294.44 L109.07,294.21 L110.06,294.95 L111.06,295.56 L112.05,296.01 L113.05,295.84 L114.04,296.39 L115.04,296.68 L116.03,296.82 L117.03,297.15 L118.02,296.98 L119.02,297.33 L120.02,296.69 L121.01,296.82 L122.01,297.42 L123.00,297.60 L124.00,298.33 L124.99,298.52 L125.99,299.53 L126.98,298.79 L127.98,299.02 L128.97,299.58 L129.97,300.58 L130.97,301.09 L131.96,300.34 L132.96,301.36 L133.95,301.52 L134.95,303.28 L135.94,302.76 L136.94,303.78 L137.93,303.83 L138.93,305.38 L139.93,305.24 L140.92,305.59 L141.92,306.67 L142.91,307.22 L143.91,307.70 L144.90,307.22 L145.90,307.66 L146.89,308.93 L147.89,310.24 L148.88,310.89 L149.88,310.25 L150.88,310.55 L151.87,311.78 L152.87,313.30 L153.86,313.81 L154.86,313.53 L155.85,313.64 L156.85,313.13 L157.84,313.41 L158.84,314.35 L159.83,315.11 L160.83,317.06 L161.83,317.17 L162.82,317.65 L163.82,317.53 L164.81,318.68 L165.81,319.58 L166.80,319.23 L167.80,319.11 L168.79,319.91 L169.79,320.64 L170.78,320.62 L171.78,320.91 L172.78,321.58 L173.77,321.88 L174.77,321.74 L175.76,321.80 L176.76,322.77 L177.75,323.37 L178.75,324.53 L179.74,325.09 L180.74,324.83 L181.74,324.93 L182.73,325.39 L183.73,326.58 L184.72,327.21 L185.72,327.01 L186.71,326.83 L187.71,327.16 L188.70,327.33 L189.70,327.22 L190.69,327.62 L191.69,328.11 L192.69,329.20 L193.68,328.59 L194.68,328.70 L195.67,328.71 L196.67,329.46 L197.66,330.47 L198.66,330.35 L199.65,331.13 L200.65,330.84 L201.64,331.65 L202.64,331.94 L203.64,332.69 L204.63,332.82 L205.63,333.59 L206.62,333.58 L207.62,334.59 L208.61,334.24 L209.61,335.43 L210.60,335.44 L211.60,336.04 L212.59,335.47 L213.59,336.37 L214.59,335.95 L215.58,336.37 L216.58,336.94 L217.57,337.63 L218.57,338.07 L219.56,338.46 L220.56,338.73 L221.55,338.61 L222.55,338.25 L223.55,337.88 L224.54,338.88 L225.54,339.29 L226.53,339.76 L227.53,339.28 L228.52,339.09 L229.52,339.53 L230.51,339.60 L231.51,339.96 L232.50,339.34 L233.50,339.75" fill="none" stroke="#111" stroke-width="1.15" stroke-dasharray="1.6 1.0" stroke-dashoffset="0.37"/>
<path d="M35.40,312.74 L36.40,311.71 L37.39,311.36 L38.39,310.50 L39.38,310.08 L40.38,308.67 L41.37,307.66 L42.37,307.47 L43.36,307.06 L44.36,307.00 L45.35,306.74 L46.35,307.01 L47.35,307.10 L48.34,306.07 L49.34,304.75 L50.33,304.08 L51.33,303.87 L52.32,304.31 L53.32,303.49 L54.31,303.43 L55.31,302.93 L56.31,302.82 L57.30,302.17 L58.30,301.62 L59.29,301.08 L60.29,300.62 L61.28,300.52 L62.28,299.90 L63.27,300.18 L64.27,299.44 L65.26,299.73 L66.26,298.72 L67.26,298.38 L68.25,298.52 L69.25,298.17 L70.24,297.51 L71.24,296.16 L72.23,295.92 L73.23,297.05 L74.22,297.19 L75.22,297.47 L76.21,296.00 L77.21,295.86 L78.21,295.55 L79.20,296.48 L80.20,295.88 L81.19,295.67 L82.19,294.91 L83.18,294.62 L84.18,294.22 L85.17,293.86 L86.17,293.21 L87.16,293.33 L88.16,293.53 L89.16,294.18 L90.15,293.31 L91.15,293.60 L92.14,293.81 L93.14,294.68 L94.13,294.60 L95.13,294.24 L96.12,294.13 L97.12,293.45 L98.12,293.62 L99.11,293.27 L100.11,293.38 L101.10,293.87 L102.10,294.00 L103.09,293.99 L104.09,293.50 L105.08,293.66 L106.08,293.45 L107.07,293.47 L108.07,293.43 L109.07,293.69 L110.06,293.98 L111.06,293.92 L112.05,295.12 L113.05,295.88 L114.04,296.50 L115.04,295.90 L116.03,296.48 L117.03,296.67 L118.02,296.92 L119.02,296.45 L120.02,296.74 L121.01,297.65 L122.01,297.85 L123.00,298.90 L124.00,298.35 L124.99,299.00 L125.99,298.15 L126.98,299.62 L127.98,299.62 L128.97,300.41 L129.97,300.48 L130.97,301.55 L131.96,301.58 L132.96,301.53 L133.95,300.95 L134.95,301.92 L135.94,302.50 L136.94,303.40 L137.93,303.57 L138.93,303.95 L139.93,304.30 L140.92,305.29 L141.92,306.56 L142.91,306.61 L143.91,306.87 L144.90,306.62 L145.90,308.11 L146.89,308.30 L147.89,308.93 L148.88,308.84 L149.88,310.02 L150.88,310.64 L151.87,311.51 L152.87,311.90 L153.86,312.27 L154.86,312.23 L155.85,312.82 L156.85,313.54 L157.84,314.59 L158.84,315.24 L159.83,316.09 L160.83,316.20 L161.83,315.98 L162.82,316.58 L163.82,318.05 L164.81,318.53 L165.81,317.91 L166.80,317.54 L167.80,318.09 L168.79,318.38 L169.79,319.09 L170.78,319.21 L171.78,319.80 L172.78,320.58 L173.77,321.24 L174.77,322.12 L175.76,322.43 L176.76,323.44 L177.75,323.74 L178.75,323.92 L179.74,323.67 L180.74,324.90 L181.74,325.53 L182.73,325.82 L183.73,325.51 L184.72,325.92 L185.72,326.93 L186.71,328.04 L187.71,328.68 L188.70,328.64 L189.70,328.25 L190.69,327.56 L191.69,328.23 L192.69,328.69 L193.68,330.63 L194.68,330.92 L195.67,330.37 L196.67,329.37 L197.66,329.72 L198.66,330.39 L199.65,330.65 L200.65,330.79 L201.64,331.75 L202.64,332.35 L203.64,332.46 L204.63,332.95 L205.63,333.11 L206.62,333.58 L207.62,333.02 L208.61,333.22 L209.61,333.97 L210.60,334.17 L211.60,334.74 L212.59,335.05 L213.59,335.82 L214.59,336.22 L215.58,335.76 L216.58,336.70 L217.57,337.31 L218.57,338.11 L219.56,337.14 L220.56,336.54 L221.55,337.08 L222.55,338.70 L223.55,339.48 L224.54,339.82 L225.54,339.12 L226.53,339.16 L227.53,338.88 L228.52,339.51 L229.52,339.19 L230.51,339.77 L231.51,340.33 L232.50,340.68 L233.50,339.96" fill="none" stroke="#222" stroke-width="1.15" stroke-dasharray="1.6 1.0" stroke-dashoffset="0.74"/>
<path d="M35.40,311.61 L36.40,311.06 L37.39,310.67 L38.39,310.69 L39.38,310.52 L40.38,309.88 L41.37,309.17 L42.37,307.83 L43.36,306.81 L44.36,306.25 L45.35,305.81 L46.35,305.46 L47.35,305.07 L48.34,305.05 L49.34,305.09 L50.33,305.09 L51.33,304.22 L52.32,303.64 L53.32,303.46 L54.31,302.84 L55.31,302.95 L56.31,301.67 L57.30,301.20 L58.30,299.63 L59.29,299.50 L60.29,299.44 L61.28,300.15 L62.28,299.70 L63.27,299.19 L64.27,298.21 L65.26,297.88 L66.26,297.15 L67.26,297.02 L68.25,296.38 L69.25,296.59 L70.24,296.32 L71.24,296.46 L72.23,295.81 L73.23,295.05 L74.22,295.76 L75.22,295.41 L76.21,296.29 L77.21,295.61 L78.21,295.78 L79.20,294.58 L80.20,294.56 L81.19,295.16 L82.19,295.07 L83.18,294.41 L84.18,294.01 L85.17,294.34 L86.17,295.06 L87.16,294.33 L88.16,294.29 L89.16,292.98 L90.15,293.87 L91.15,293.32 L92.14,292.89 L93.14,292.00 L94.13,292.16 L95.13,293.65 L96.12,293.54 L97.12,293.56 L98.12,293.06 L99.11,293.78 L100.11,293.77 L101.10,293.97 L102.10,293.61 L103.09,293.57 L104.09,293.28 L105.08,293.18 L106.08,293.04 L107.07,293.56 L108.07,293.15 L109.07,294.06 L110.06,294.11 L111.06,294.75 L112.05,294.20 L113.05,293.95 L114.04,294.37 L115.04,295.15 L116.03,295.57 L117.03,296.01 L118.02,295.80 L119.02,296.06 L120.02,295.41 L121.01,296.21 L122.01,296.51 L123.00,297.28 L124.00,297.79 L124.99,298.36 L125.99,297.86 L126.98,297.84 L127.98,297.45 L128.97,299.31 L129.97,300.65 L130.97,301.44 L131.96,301.53 L132.96,300.97 L133.95,301.77 L134.95,302.45 L135.94,303.51 L136.94,303.51 L137.93,304.35 L138.93,304.03 L139.93,305.01 L140.92,305.37 L141.92,306.49 L142.91,306.56 L143.91,306.40 L144.90,306.49 L145.90,307.34 L146.89,308.55 L147.89,308.77 L148.88,309.49 L149.88,309.82 L150.88,311.03 L151.87,311.56 L152.87,312.41 L153.86,312.91 L154.86,313.57 L155.85,313.72 L156.85,314.71 L157.84,314.19 L158.84,314.95 L159.83,314.68 L160.83,315.77 L161.83,315.41 L162.82,315.29 L163.82,315.73 L164.81,316.30 L165.81,317.64 L166.80,317.70 L167.80,318.94 L168.79,319.31 L169.79,320.21 L170.78,319.85 L171.78,319.90 L172.78,320.01 L173.77,320.50 L174.77,321.22 L175.76,321.99 L176.76,322.09 L177.75,322.40 L178.75,322.55 L179.74,323.54 L180.74,324.73 L181.74,325.69 L182.73,325.92 L183.73,325.01 L184.72,324.65 L185.72,324.52 L186.71,325.78 L187.71,326.40 L188.70,327.42 L189.70,327.29 L190.69,327.98 L191.69,328.84 L192.69,329.18 L193.68,329.37 L194.68,328.91 L195.67,329.84 L196.67,329.93 L197.66,330.15 L198.66,329.65 L199.65,329.85 L200.65,330.77 L201.64,332.57 L202.64,333.05 L203.64,333.55 L204.63,333.00 L205.63,333.28 L206.62,333.13 L207.62,333.26 L208.61,333.71 L209.61,334.83 L210.60,334.50 L211.60,335.19 L212.59,334.88 L213.59,335.66 L214.59,335.85 L215.58,336.32 L216.58,336.87 L217.57,337.23 L218.57,337.42 L219.56,336.87 L220.56,337.52 L221.55,338.35 L222.55,339.72 L223.55,339.78 L224.54,338.65 L225.54,338.48 L226.53,338.03 L227.53,338.55 L228.52,339.18 L229.52,339.39 L230.51,339.77 L231.51,338.91 L232.50,339.35 L233.50,339.63" fill="none" stroke="#1a1a1a" stroke-width="1.15" stroke-dasharray="1.6 1.0" stroke-dashoffset="1.11"/>
<path d="M35.40,312.47 L36.40,311.57 L37.39,310.75 L38.39,309.10 L39.38,309.31 L40.38,309.80 L41.37,309.60 L42.37,308.30 L43.36,306.81 L44.36,306.51 L45.35,305.89 L46.35,306.04 L47.35,305.65 L48.34,305.51 L49.34,304.73 L50.33,304.02 L51.33,304.10 L52.32,303.05 L53.32,302.78 L54.31,301.66 L55.31,301.36 L56.31,300.58 L57.30,300.26 L58.30,299.81 L59.29,298.83 L60.29,298.22 L61.28,298.76 L62.28,299.71 L63.27,299.96 L64.27,299.55 L65.26,298.35 L66.26,297.80 L67.26,297.19 L68.25,296.71 L69.25,296.11 L70.24,295.78 L71.24,295.80 L72.23,295.53 L73.23,295.40 L74.22,295.19 L75.22,295.72 L76.21,295.36 L77.21,295.14 L78.21,294.61 L79.20,294.36 L80.20,294.04 L81.19,293.67 L82.19,293.84 L83.18,294.15 L84.18,294.60 L85.17,293.58 L86.17,293.07 L87.16,292.33 L88.16,292.89 L89.16,292.76 L90.15,292.63 L91.15,292.76 L92.14,292.91 L93.14,292.61 L94.13,292.75 L95.13,293.01 L96.12,293.19 L97.12,292.98 L98.12,292.35 L99.11,292.97 L100.11,292.60 L101.10,292.60 L102.10,292.10 L103.09,291.96 L104.09,292.38 L105.08,292.66 L106.08,293.04 L107.07,292.87 L108.07,291.61 L109.07,291.76 L110.06,291.42 L111.06,292.99 L112.05,293.54 L113.05,294.51 L114.04,294.49 L115.04,294.24 L116.03,294.33 L117.03,294.52 L118.02,294.64 L119.02,294.64 L120.02,295.57 L121.01,296.09 L122.01,297.10 L123.00,296.93 L124.00,297.32 L124.99,297.29 L125.99,297.94 L126.98,298.61 L127.98,299.17 L128.97,299.19 L129.97,299.04 L130.97,300.00 L131.96,300.60 L132.96,301.24 L133.95,301.64 L134.95,302.62 L135.94,303.40 L136.94,303.23 L137.93,304.19 L138.93,304.64 L139.93,305.50 L140.92,305.10 L141.92,304.97 L142.91,304.82 L143.91,305.56 L144.90,306.74 L145.90,307.66 L146.89,307.62 L147.89,307.50 L148.88,308.00 L149.88,308.42 L150.88,309.80 L151.87,310.86 L152.87,312.93 L153.86,313.44 L154.86,313.33 L155.85,312.51 L156.85,311.46 L157.84,311.97 L158.84,312.72 L159.83,314.80 L160.83,315.73 L161.83,316.49 L162.82,316.70 L163.82,317.19 L164.81,317.97 L165.81,317.98 L166.80,318.04 L167.80,317.48 L168.79,318.90 L169.79,319.98 L170.78,321.20 L171.78,320.62 L172.78,320.66 L173.77,320.73 L174.77,321.63 L175.76,321.92 L176.76,322.61 L177.75,322.86 L178.75,323.65 L179.74,323.96 L180.74,324.40 L181.74,324.46 L182.73,324.61 L183.73,325.41 L184.72,325.74 L185.72,326.39 L186.71,326.34 L187.71,326.29 L188.70,326.89 L189.70,327.02 L190.69,328.17 L191.69,328.36 L192.69,328.51 L193.68,328.29 L194.68,328.31 L195.67,328.96 L196.67,329.23 L197.66,330.03 L198.66,330.58 L199.65,331.48 L200.65,331.39 L201.64,331.92 L202.64,331.84 L203.64,332.31 L204.63,332.73 L205.63,333.33 L206.62,333.49 L207.62,333.19 L208.61,333.54 L209.61,334.13 L210.60,334.73 L211.60,334.68 L212.59,335.04 L213.59,336.31 L214.59,336.76 L215.58,336.96 L216.58,336.47 L217.57,335.93 L218.57,336.11 L219.56,335.98 L220.56,337.66 L221.55,337.78 L222.55,338.00 L223.55,337.66 L224.54,338.05 L225.54,338.36 L226.53,338.65 L227.53,338.33 L228.52,338.67 L229.52,339.18 L230.51,340.59 L231.51,341.13 L232.50,341.16 L233.50,341.07" fill="none" stroke="#000" stroke-width="1.15" stroke-dasharray="1.6 1.0" stroke-dashoffset="1.48"/>
<path d="M35.40,313.50 L36.40,312.32 L37.39,311.06 L38.39,310.02 L39.38,309.52 L40.38,308.86 L41.37,307.85 L42.37,306.30 L43.36,305.37 L44.36,304.31 L45.35,304.61 L46.35,304.34 L47.35,303.96 L48.34,303.71 L49.34,303.56 L50.33,303.78 L51.33,303.71 L52.32,303.66 L53.32,302.72 L54.31,302.05 L55.31,301.08 L56.31,301.32 L57.30,300.89 L58.30,300.06 L59.29,299.30 L60.29,298.25 L61.28,297.90 L62.28,297.76 L63.27,297.19 L64.27,296.76 L65.26,296.72 L66.26,296.96 L67.26,297.24 L68.25,295.99 L69.25,295.43 L70.24,294.80 L71.24,295.30 L72.23,295.13 L73.23,295.48 L74.22,295.21 L75.22,295.23 L76.21,294.65 L77.21,294.74 L78.21,294.34 L79.20,294.59 L80.20,294.30 L81.19,294.37 L82.19,293.77 L83.18,293.63 L84.18,293.82 L85.17,294.03 L86.17,293.83 L87.16,293.65 L88.16,293.21 L89.16,293.45 L90.15,293.00 L91.15,292.04 L92.14,292.00 L93.14,291.99 L94.13,292.29 L95.13,291.64 L96.12,291.22 L97.12,292.48 L98.12,292.75 L99.11,292.48 L100.11,291.88 L101.10,291.56 L102.10,292.97 L103.09,292.39 L104.09,291.73 L105.08,291.08 L106.08,291.45 L107.07,292.27 L108.07,291.52 L109.07,291.96 L110.06,292.93 L111.06,293.19 L112.05,293.66 L113.05,292.96 L114.04,294.85 L115.04,294.78 L116.03,295.17 L117.03,294.93 L118.02,295.24 L119.02,295.37 L120.02,295.51 L121.01,295.42 L122.01,295.29 L123.00,296.16 L124.00,296.58 L124.99,297.43 L125.99,297.15 L126.98,297.08 L127.98,297.20 L128.97,297.30 L129.97,298.15 L130.97,299.16 L131.96,300.26 L132.96,300.75 L133.95,301.39 L134.95,301.67 L135.94,301.92 L136.94,302.32 L137.93,302.22 L138.93,303.57 L139.93,304.18 L140.92,305.08 L141.92,304.66 L142.91,305.05 L143.91,305.28 L144.90,306.62 L145.90,307.06 L146.89,307.58 L147.89,308.20 L148.88,309.07 L149.88,309.69 L150.88,310.32 L151.87,310.45 L152.87,311.09 L153.86,311.20 L154.86,311.55 L155.85,312.01 L156.85,312.41 L157.84,313.82 L158.84,315.09 L159.83,315.55 L160.83,316.08 L161.83,315.96 L162.82,316.69 L163.82,316.89 L164.81,317.50 L165.81,318.77 L166.80,318.98 L167.80,318.86 L168.79,318.88 L169.79,319.07 L170.78,319.88 L171.78,318.63 L172.78,319.63 L173.77,320.50 L174.77,322.43 L175.76,322.85 L176.76,323.62 L177.75,323.71 L178.75,324.11 L179.74,323.56 L180.74,323.85 L181.74,324.30 L182.73,325.15 L183.73,325.17 L184.72,325.29 L185.72,325.45 L186.71,326.04 L187.71,326.46 L188.70,326.75 L189.70,326.83 L190.69,326.60 L191.69,327.82 L192.69,328.21 L193.68,329.10 L194.68,329.01 L195.67,330.21 L196.67,329.99 L197.66,329.97 L198.66,330.12 L199.65,331.26 L200.65,331.47 L201.64,331.29 L202.64,331.70 L203.64,332.72 L204.63,333.64 L205.63,333.33 L206.62,333.37 L207.62,333.57 L208.61,334.45 L209.61,334.10 L210.60,334.40 L211.60,334.30 L212.59,334.65 L213.59,334.98 L214.59,335.33 L215.58,335.89 L216.58,336.23 L217.57,335.93 L218.57,336.34 L219.56,336.61 L220.56,337.54 L221.55,338.24 L222.55,337.84 L223.55,337.38 L224.54,337.29 L225.54,338.18 L226.53,339.84 L227.53,340.21 L228.52,339.91 L229.52,339.61 L230.51,339.25 L231.51,339.22 L232.50,340.13 L233.50,340.79" fill="none" stroke="#0a0a0a" stroke-width="1.15" stroke-dasharray="1.6 1.0" stroke-dashoffset="1.85"/>
<path d="M35.40,312.79 L36.40,311.91 L37.39,311.42 L38.39,309.75 L39.38,308.50 L40.38,307.92 L41.37,308.16 L42.37,308.21 L43.36,307.20 L44.36,306.17 L45.35,305.20 L46.35,305.12 L47.35,304.77 L48.34,304.67 L49.34,303.78 L50.33,303.44 L51.33,302.97 L52.32,302.65 L53.32,301.45 L54.31,301.03 L55.31,301.12 L56.31,300.94 L57.30,300.33 L58.30,299.51 L59.29,299.65 L60.29,299.56 L61.28,298.34 L62.28,297.85 L63.27,296.90 L64.27,296.85 L65.26,296.56 L66.26,296.57 L67.26,296.84 L68.25,297.46 L69.25,297.56 L70.24,297.26 L71.24,295.61 L72.23,294.87 L73.23,294.01 L74.22,293.90 L75.22,293.52 L76.21,293.44 L77.21,293.34 L78.21,293.17 L79.20,292.71 L80.20,292.12 L81.19,292.44 L82.19,292.78 L83.18,293.44 L84.18,293.49 L85.17,293.21 L86.17,292.95 L87.16,291.96 L88.16,292.75 L89.16,292.82 L90.15,293.15 L91.15,291.87 L92.14,291.51 L93.14,290.87 L94.13,290.95 L95.13,291.03 L96.12,291.67 L97.12,291.75 L98.12,291.81 L99.11,291.43 L100.11,291.71 L101.10,291.23 L102.10,291.34 L103.09,291.45 L104.09,291.35 L105.08,292.38 L106.08,292.11 L107.07,293.24 L108.07,292.33 L109.07,292.88 L110.06,291.92 L111.06,292.00 L112.05,292.02 L113.05,292.87 L114.04,293.10 L115.04,293.68 L116.03,293.41 L117.03,294.15 L118.02,294.14 L119.02,294.91 L120.02,294.55 L121.01,295.30 L122.01,295.63 L123.00,296.45 L124.00,295.91 L124.99,295.51 L125.99,295.58 L126.98,296.53 L127.98,297.42 L128.97,297.93 L129.97,298.00 L130.97,299.11 L131.96,299.85 L132.96,300.30 L133.95,300.71 L134.95,301.47 L135.94,302.19 L136.94,302.02 L137.93,301.83 L138.93,301.93 L139.93,302.49 L140.92,303.48 L141.92,304.53 L142.91,305.42 L143.91,306.11 L144.90,306.60 L145.90,306.60 L146.89,306.32 L147.89,306.61 L148.88,307.16 L149.88,308.22 L150.88,308.85 L151.87,309.28 L152.87,309.66 L153.86,310.25 L154.86,311.24 L155.85,311.92 L156.85,312.65 L157.84,313.04 L158.84,313.43 L159.83,313.77 L160.83,314.99 L161.83,315.61 L162.82,316.48 L163.82,316.79 L164.81,318.02 L165.81,317.81 L166.80,318.50 L167.80,318.49 L168.79,319.15 L169.79,318.83 L170.78,319.45 L171.78,320.01 L172.78,320.47 L173.77,321.14 L174.77,321.31 L175.76,321.45 L176.76,321.71 L177.75,322.62 L178.75,323.78 L179.74,323.55 L180.74,324.10 L181.74,324.29 L182.73,325.68 L183.73,325.28 L184.72,325.58 L185.72,325.27 L186.71,325.55 L187.71,325.61 L188.70,326.48 L189.70,327.25 L190.69,327.62 L191.69,327.91 L192.69,328.78 L193.68,329.74 L194.68,329.53 L195.67,329.52 L196.67,329.89 L197.66,330.29 L198.66,330.40 L199.65,330.68 L200.65,331.78 L201.64,331.98 L202.64,331.13 L203.64,330.42 L204.63,330.79 L205.63,331.96 L206.62,332.99 L207.62,333.60 L208.61,333.72 L209.61,333.86 L210.60,333.88 L211.60,334.40 L212.59,334.42 L213.59,335.97 L214.59,336.55 L215.58,336.77 L216.58,335.77 L217.57,335.61 L218.57,335.60 L219.56,335.95 L220.56,336.11 L221.55,337.24 L222.55,337.59 L223.55,337.82 L224.54,337.29 L225.54,337.27 L226.53,337.75 L227.53,338.37 L228.52,339.39 L229.52,339.42 L230.51,340.07 L231.51,339.98 L232.50,340.40 L233.50,339.54" fill="none" stroke="#151515" stroke-width="1.15" stroke-dasharray="1.6 1.0" stroke-dashoffset="2.22"/>
<line x1="199.60" y1="189.00" x2="213.60" y2="189.00" stroke="#111" stroke-width="1.4" stroke-dasharray="1.6 2.5"/>
<text x="215.60" y="191.60" font-size="7.4" text-anchor="start" font-weight="normal" fill="#111" stroke="#111" stroke-width="0.25" letter-spacing="-0.17">Normal + CP</text>
<line x1="199.60" y1="197.80" x2="213.60" y2="197.80" stroke="#666" stroke-width="1.4" stroke-dasharray="1.6 2.5"/>
<text x="215.60" y="200.40" font-size="7.4" text-anchor="start" font-weight="normal" fill="#111" stroke="#111" stroke-width="0.25" letter-spacing="-0.17">Patient A + CP</text>
<line x1="199.60" y1="206.60" x2="213.60" y2="206.60" stroke="#b0b0b0" stroke-width="1.4" stroke-dasharray="1.6 2.5"/>
<text x="215.60" y="209.20" font-size="7.4" text-anchor="start" font-weight="normal" fill="#111" stroke="#111" stroke-width="0.25" letter-spacing="-0.17">Patient B + CP</text>
<line x1="199.60" y1="215.40" x2="213.60" y2="215.40" stroke="#8a8a8a" stroke-width="1.4" stroke-dasharray="1.6 2.5"/>
<text x="215.60" y="218.00" font-size="7.4" text-anchor="start" font-weight="normal" fill="#111" stroke="#111" stroke-width="0.25" letter-spacing="-0.17">Patient C + CP</text>
<line x1="199.60" y1="224.20" x2="213.60" y2="224.20" stroke="#1a1a1a" stroke-width="1.4" stroke-dasharray="1.6 2.5"/>
<text x="215.60" y="226.80" font-size="7.4" text-anchor="start" font-weight="normal" fill="#111" stroke="#111" stroke-width="0.25" letter-spacing="-0.17">Patient D + CP</text>
<line x1="199.60" y1="233.00" x2="213.60" y2="233.00" stroke="#2a2a2a" stroke-width="1.4" stroke-dasharray="1.6 2.5"/>
<text x="215.60" y="235.60" font-size="7.4" text-anchor="start" font-weight="normal" fill="#111" stroke="#111" stroke-width="0.25" letter-spacing="-0.17">Patient E + CP</text>
<line x1="199.60" y1="241.80" x2="213.60" y2="241.80" stroke="#444" stroke-width="1.4" stroke-dasharray="1.6 2.5"/>
<text x="215.60" y="244.40" font-size="7.4" text-anchor="start" font-weight="normal" fill="#111" stroke="#111" stroke-width="0.25" letter-spacing="-0.17">Patient F + CP</text>
<line x1="200.20" y1="250.60" x2="213.60" y2="250.60" stroke="#111" stroke-width="1.5" />
<text x="215.60" y="253.20" font-size="7.4" text-anchor="start" font-weight="normal" fill="#111" stroke="#111" stroke-width="0.25" letter-spacing="-0.17">Normal + STI571</text>
<line x1="200.20" y1="259.40" x2="213.60" y2="259.40" stroke="#111" stroke-width="1.5" />
<text x="215.60" y="262.00" font-size="7.4" text-anchor="start" font-weight="normal" fill="#111" stroke="#111" stroke-width="0.25" letter-spacing="-0.17">Patient A + STI571</text>
<line x1="200.20" y1="268.20" x2="213.60" y2="268.20" stroke="#111" stroke-width="1.5" />
<text x="215.60" y="270.80" font-size="7.4" text-anchor="start" font-weight="normal" fill="#111" stroke="#111" stroke-width="0.25" letter-spacing="-0.17">Patient B + STI571</text>
<line x1="200.20" y1="277.00" x2="213.60" y2="277.00" stroke="#111" stroke-width="1.5" />
<text x="215.60" y="279.60" font-size="7.4" text-anchor="start" font-weight="normal" fill="#111" stroke="#111" stroke-width="0.25" letter-spacing="-0.17">Patient C + STI571</text>
<line x1="200.20" y1="285.80" x2="213.60" y2="285.80" stroke="#111" stroke-width="1.5" />
<text x="215.60" y="288.40" font-size="7.4" text-anchor="start" font-weight="normal" fill="#111" stroke="#111" stroke-width="0.25" letter-spacing="-0.17">Patient D + STI571</text>
<line x1="200.20" y1="294.60" x2="213.60" y2="294.60" stroke="#111" stroke-width="1.5" />
<text x="215.60" y="297.20" font-size="7.4" text-anchor="start" font-weight="normal" fill="#111" stroke="#111" stroke-width="0.25" letter-spacing="-0.17">Patient E + STI571</text>
<line x1="200.20" y1="303.40" x2="213.60" y2="303.40" stroke="#111" stroke-width="1.5" />
<text x="215.60" y="306.00" font-size="7.4" text-anchor="start" font-weight="normal" fill="#111" stroke="#111" stroke-width="0.25" letter-spacing="-0.17">Patient F + STI571</text>
<text x="291.00" y="13.40" font-size="17.5" text-anchor="start" font-weight="bold" fill="#000" >C</text>
<line x1="339.20" y1="13.90" x2="342.30" y2="13.90" stroke="#666" stroke-width="1" />
<text x="334.90" y="16.80" font-size="8.3" text-anchor="end" font-weight="normal" fill="#161616" stroke="#161616" stroke-width="0.35">100,000</text>
<line x1="339.20" y1="88.25" x2="342.30" y2="88.25" stroke="#666" stroke-width="1" />
<text x="334.90" y="91.15" font-size="8.3" text-anchor="end" font-weight="normal" fill="#161616" stroke="#161616" stroke-width="0.35">10,000</text>
<line x1="339.20" y1="162.60" x2="342.30" y2="162.60" stroke="#666" stroke-width="1" />
<text x="334.90" y="165.50" font-size="8.3" text-anchor="end" font-weight="normal" fill="#161616" stroke="#161616" stroke-width="0.35">1,000</text>
<text transform="translate(301.0,87.8) rotate(-90)" font-size="8" font-weight="bold" text-anchor="middle" fill="#161616">COUNTS PER MINUTE</text>
<rect x="350.25" y="51.75" width="9.55" height="110.85" fill="#0a0a0a" stroke="#111" stroke-width="0.9" />
<rect x="360.65" y="40.85" width="9.55" height="121.75" fill="#8e8e8e" stroke="#111" stroke-width="0.9" />
<rect x="381.05" y="55.75" width="9.55" height="106.85" fill="#848484" stroke="#111" stroke-width="0.9" />
<rect x="391.55" y="52.75" width="9.55" height="109.85" fill="#404040" stroke="#111" stroke-width="0.9" />
<rect x="402.05" y="66.95" width="9.55" height="95.65" fill="#eaeaea" stroke="#111" stroke-width="0.9" />
<rect x="412.55" y="61.65" width="9.55" height="100.95" fill="#333" stroke="#111" stroke-width="0.9" />
<rect x="437.45" y="111.95" width="9.55" height="50.65" fill="#0a0a0a" stroke="#111" stroke-width="0.9" />
<rect x="448.05" y="137.55" width="9.55" height="25.05" fill="#8e8e8e" stroke="#111" stroke-width="0.9" />
<rect x="468.75" y="132.65" width="9.55" height="29.95" fill="#848484" stroke="#111" stroke-width="0.9" />
<rect x="479.35" y="134.55" width="9.55" height="28.05" fill="#404040" stroke="#111" stroke-width="0.9" />
<rect x="489.85" y="103.75" width="9.55" height="58.85" fill="#eaeaea" stroke="#111" stroke-width="0.9" />
<rect x="500.25" y="122.65" width="9.55" height="39.95" fill="#333" stroke="#111" stroke-width="0.9" />
<line x1="355.03" y1="47.00" x2="355.03" y2="54.50" stroke="#111" stroke-width="0.9" />
<line x1="353.93" y1="47.00" x2="356.13" y2="47.00" stroke="#111" stroke-width="0.9" />
<line x1="353.93" y1="54.50" x2="356.13" y2="54.50" stroke="#111" stroke-width="0.9" />
<line x1="365.43" y1="36.20" x2="365.43" y2="44.30" stroke="#111" stroke-width="0.9" />
<line x1="364.32" y1="36.20" x2="366.53" y2="36.20" stroke="#111" stroke-width="0.9" />
<line x1="364.32" y1="44.30" x2="366.53" y2="44.30" stroke="#111" stroke-width="0.9" />
<line x1="385.83" y1="54.30" x2="385.83" y2="56.20" stroke="#111" stroke-width="0.9" />
<line x1="384.73" y1="54.30" x2="386.93" y2="54.30" stroke="#111" stroke-width="0.9" />
<line x1="384.73" y1="56.20" x2="386.93" y2="56.20" stroke="#111" stroke-width="0.9" />
<line x1="396.33" y1="50.50" x2="396.33" y2="54.00" stroke="#111" stroke-width="0.9" />
<line x1="395.23" y1="50.50" x2="397.43" y2="50.50" stroke="#111" stroke-width="0.9" />
<line x1="395.23" y1="54.00" x2="397.43" y2="54.00" stroke="#111" stroke-width="0.9" />
<line x1="406.83" y1="59.20" x2="406.83" y2="76.70" stroke="#111" stroke-width="0.9" />
<line x1="405.73" y1="59.20" x2="407.93" y2="59.20" stroke="#111" stroke-width="0.9" />
<line x1="405.73" y1="76.70" x2="407.93" y2="76.70" stroke="#111" stroke-width="0.9" />
<line x1="417.33" y1="59.20" x2="417.33" y2="63.00" stroke="#111" stroke-width="0.9" />
<line x1="416.23" y1="59.20" x2="418.43" y2="59.20" stroke="#111" stroke-width="0.9" />
<line x1="416.23" y1="63.00" x2="418.43" y2="63.00" stroke="#111" stroke-width="0.9" />
<line x1="442.23" y1="109.10" x2="442.23" y2="114.00" stroke="#111" stroke-width="0.9" />
<line x1="441.12" y1="109.10" x2="443.33" y2="109.10" stroke="#111" stroke-width="0.9" />
<line x1="441.12" y1="114.00" x2="443.33" y2="114.00" stroke="#111" stroke-width="0.9" />
<line x1="452.83" y1="132.50" x2="452.83" y2="142.60" stroke="#111" stroke-width="0.9" />
<line x1="451.73" y1="132.50" x2="453.93" y2="132.50" stroke="#111" stroke-width="0.9" />
<line x1="451.73" y1="142.60" x2="453.93" y2="142.60" stroke="#111" stroke-width="0.9" />
<line x1="473.53" y1="127.10" x2="473.53" y2="139.00" stroke="#111" stroke-width="0.9" />
<line x1="472.43" y1="127.10" x2="474.63" y2="127.10" stroke="#111" stroke-width="0.9" />
<line x1="472.43" y1="139.00" x2="474.63" y2="139.00" stroke="#111" stroke-width="0.9" />
<line x1="484.12" y1="124.40" x2="484.12" y2="148.20" stroke="#111" stroke-width="0.9" />
<line x1="483.02" y1="124.40" x2="485.23" y2="124.40" stroke="#111" stroke-width="0.9" />
<line x1="483.02" y1="148.20" x2="485.23" y2="148.20" stroke="#111" stroke-width="0.9" />
<line x1="494.62" y1="101.40" x2="494.62" y2="105.10" stroke="#111" stroke-width="0.9" />
<line x1="493.52" y1="101.40" x2="495.73" y2="101.40" stroke="#111" stroke-width="0.9" />
<line x1="493.52" y1="105.10" x2="495.73" y2="105.10" stroke="#111" stroke-width="0.9" />
<line x1="505.03" y1="119.20" x2="505.03" y2="124.40" stroke="#111" stroke-width="0.9" />
<line x1="503.93" y1="119.20" x2="506.13" y2="119.20" stroke="#111" stroke-width="0.9" />
<line x1="503.93" y1="124.40" x2="506.13" y2="124.40" stroke="#111" stroke-width="0.9" />
<rect x="342.30" y="13.90" width="175.90" height="148.70" fill="none" stroke="#3a3a3a" stroke-width="1.4" />
<rect x="438.00" y="21.80" width="5.40" height="5.40" fill="#0a0a0a" stroke="#111" stroke-width="0.9" />
<text x="445.40" y="27.40" font-size="8" text-anchor="start" font-weight="normal" fill="#111" stroke="#111" stroke-width="0.2">K562 only</text>
<rect x="438.00" y="33.65" width="5.40" height="5.40" fill="#8e8e8e" stroke="#111" stroke-width="0.9" />
<text x="445.40" y="39.25" font-size="8" text-anchor="start" font-weight="normal" fill="#111" stroke="#111" stroke-width="0.2">+ Anti-trypsin</text>
<rect x="438.00" y="45.50" width="5.40" height="5.40" fill="#848484" stroke="#111" stroke-width="0.9" />
<text x="445.40" y="51.10" font-size="8" text-anchor="start" font-weight="normal" fill="#111" stroke="#111" stroke-width="0.2">+ Patient A AGP</text>
<rect x="438.00" y="57.35" width="5.40" height="5.40" fill="#404040" stroke="#111" stroke-width="0.9" />
<text x="445.40" y="62.95" font-size="8" text-anchor="start" font-weight="normal" fill="#111" stroke="#111" stroke-width="0.2">+ Patient B AGP</text>
<rect x="438.00" y="69.20" width="5.40" height="5.40" fill="#eaeaea" stroke="#111" stroke-width="0.9" />
<text x="445.40" y="74.80" font-size="8" text-anchor="start" font-weight="normal" fill="#111" stroke="#111" stroke-width="0.2">+ Patient C AGP</text>
<rect x="438.00" y="81.05" width="5.40" height="5.40" fill="#333" stroke="#111" stroke-width="0.9" />
<text x="445.40" y="86.65" font-size="8" text-anchor="start" font-weight="normal" fill="#111" stroke="#111" stroke-width="0.2">+ Patient F AGP</text>
<rect x="439.50" y="166.60" width="75.60" height="3.90" fill="#000" stroke="none" stroke-width="0" />
<text x="453.80" y="186.40" font-size="11.4" text-anchor="start" font-weight="bold" fill="#000" stroke="#000" stroke-width="0.3" letter-spacing="0.6">+STI571</text>
<text x="291.20" y="190.90" font-size="17.8" text-anchor="start" font-weight="bold" fill="#000" >D</text>
<line x1="337.60" y1="347.40" x2="339.80" y2="347.40" stroke="#444" stroke-width="1" />
<text x="334.40" y="349.70" font-size="7.6" text-anchor="end" font-weight="normal" fill="#111" stroke="#111" stroke-width="0.2" letter-spacing="-0.32">1</text>
<line x1="337.60" y1="322.37" x2="339.80" y2="322.37" stroke="#444" stroke-width="1" />
<text x="334.40" y="324.67" font-size="7.6" text-anchor="end" font-weight="normal" fill="#111" stroke="#111" stroke-width="0.2" letter-spacing="-0.32">10</text>
<line x1="337.60" y1="297.33" x2="339.80" y2="297.33" stroke="#444" stroke-width="1" />
<text x="334.40" y="299.63" font-size="7.6" text-anchor="end" font-weight="normal" fill="#111" stroke="#111" stroke-width="0.2" letter-spacing="-0.32">100</text>
<line x1="337.60" y1="272.30" x2="339.80" y2="272.30" stroke="#444" stroke-width="1" />
<text x="334.40" y="274.60" font-size="7.6" text-anchor="end" font-weight="normal" fill="#111" stroke="#111" stroke-width="0.2" letter-spacing="-0.32">1,000</text>
<line x1="337.60" y1="247.27" x2="339.80" y2="247.27" stroke="#444" stroke-width="1" />
<text x="334.40" y="249.57" font-size="7.6" text-anchor="end" font-weight="normal" fill="#111" stroke="#111" stroke-width="0.2" letter-spacing="-0.32">10,000</text>
<line x1="337.60" y1="222.23" x2="339.80" y2="222.23" stroke="#444" stroke-width="1" />
<text x="334.40" y="224.53" font-size="7.6" text-anchor="end" font-weight="normal" fill="#111" stroke="#111" stroke-width="0.2" letter-spacing="-0.32">100,000</text>
<line x1="337.60" y1="197.20" x2="339.80" y2="197.20" stroke="#444" stroke-width="1" />
<text x="334.40" y="199.50" font-size="7.6" text-anchor="end" font-weight="normal" fill="#111" stroke="#111" stroke-width="0.2" letter-spacing="-0.32">1,000,000</text>
<text transform="translate(307.0,278.8) rotate(-90)" font-size="8.3" font-weight="bold" text-anchor="middle" fill="#161616">COUNTS PER MINUTE</text>
<rect x="348.55" y="216.05" width="9.70" height="131.35" fill="#858585" stroke="#111" stroke-width="0.9" />
<rect x="359.05" y="218.35" width="9.70" height="129.05" fill="#1c1c1c" stroke="#111" stroke-width="0.9" />
<rect x="369.55" y="218.35" width="9.70" height="129.05" fill="#cfcfcf" stroke="#111" stroke-width="0.9" />
<rect x="380.25" y="219.15" width="9.70" height="128.25" fill="#2e2e2e" stroke="#111" stroke-width="0.9" />
<rect x="406.75" y="263.75" width="9.70" height="83.65" fill="#858585" stroke="#111" stroke-width="0.9" />
<rect x="417.35" y="262.05" width="9.70" height="85.35" fill="#1c1c1c" stroke="#111" stroke-width="0.9" />
<rect x="428.35" y="263.75" width="9.70" height="83.65" fill="#cfcfcf" stroke="#111" stroke-width="0.9" />
<rect x="439.35" y="246.05" width="9.70" height="101.35" fill="#2e2e2e" stroke="#111" stroke-width="0.9" />
<rect x="465.65" y="277.75" width="9.70" height="69.65" fill="#858585" stroke="#111" stroke-width="0.9" />
<rect x="476.55" y="278.65" width="9.70" height="68.75" fill="#1c1c1c" stroke="#111" stroke-width="0.9" />
<rect x="487.65" y="280.95" width="9.70" height="66.45" fill="#cfcfcf" stroke="#111" stroke-width="0.9" />
<rect x="498.35" y="279.45" width="9.70" height="67.95" fill="#2e2e2e" stroke="#111" stroke-width="0.9" />
<line x1="353.40" y1="214.50" x2="353.40" y2="218.50" stroke="#111" stroke-width="0.9" />
<line x1="352.10" y1="214.50" x2="354.70" y2="214.50" stroke="#111" stroke-width="0.9" />
<line x1="363.90" y1="216.80" x2="363.90" y2="219.00" stroke="#111" stroke-width="0.9" />
<line x1="362.60" y1="216.80" x2="365.20" y2="216.80" stroke="#111" stroke-width="0.9" />
<line x1="374.40" y1="215.00" x2="374.40" y2="220.50" stroke="#111" stroke-width="0.9" />
<line x1="373.10" y1="215.00" x2="375.70" y2="215.00" stroke="#111" stroke-width="0.9" />
<line x1="385.10" y1="215.60" x2="385.10" y2="221.30" stroke="#111" stroke-width="0.9" />
<line x1="383.80" y1="215.60" x2="386.40" y2="215.60" stroke="#111" stroke-width="0.9" />
<line x1="411.60" y1="261.00" x2="411.60" y2="265.20" stroke="#111" stroke-width="0.9" />
<line x1="410.30" y1="261.00" x2="412.90" y2="261.00" stroke="#111" stroke-width="0.9" />
<line x1="422.20" y1="259.70" x2="422.20" y2="263.30" stroke="#111" stroke-width="0.9" />
<line x1="420.90" y1="259.70" x2="423.50" y2="259.70" stroke="#111" stroke-width="0.9" />
<line x1="433.20" y1="261.00" x2="433.20" y2="266.20" stroke="#111" stroke-width="0.9" />
<line x1="431.90" y1="261.00" x2="434.50" y2="261.00" stroke="#111" stroke-width="0.9" />
<line x1="444.20" y1="239.70" x2="444.20" y2="257.70" stroke="#111" stroke-width="0.9" />
<line x1="442.90" y1="239.70" x2="445.50" y2="239.70" stroke="#111" stroke-width="0.9" />
<line x1="470.50" y1="275.00" x2="470.50" y2="279.00" stroke="#111" stroke-width="0.9" />
<line x1="469.20" y1="275.00" x2="471.80" y2="275.00" stroke="#111" stroke-width="0.9" />
<line x1="481.40" y1="274.80" x2="481.40" y2="281.30" stroke="#111" stroke-width="0.9" />
<line x1="480.10" y1="274.80" x2="482.70" y2="274.80" stroke="#111" stroke-width="0.9" />
<line x1="492.50" y1="277.00" x2="492.50" y2="284.20" stroke="#111" stroke-width="0.9" />
<line x1="491.20" y1="277.00" x2="493.80" y2="277.00" stroke="#111" stroke-width="0.9" />
<line x1="503.20" y1="276.00" x2="503.20" y2="283.00" stroke="#111" stroke-width="0.9" />
<line x1="501.90" y1="276.00" x2="504.50" y2="276.00" stroke="#111" stroke-width="0.9" />
<line x1="339.80" y1="208.20" x2="452.70" y2="208.20" stroke="#111" stroke-width="1.1" />
<line x1="339.80" y1="211.50" x2="452.70" y2="211.50" stroke="#222" stroke-width="1.0" stroke-dasharray="2 1 1 1"/>
<line x1="339.80" y1="215.20" x2="452.70" y2="215.20" stroke="#111" stroke-width="1.1" />
<rect x="339.80" y="197.20" width="176.80" height="150.20" fill="none" stroke="#333" stroke-width="1.25" />
<line x1="339.80" y1="347.40" x2="339.80" y2="349.80" stroke="#222" stroke-width="1" />
<line x1="398.70" y1="347.40" x2="398.70" y2="349.80" stroke="#222" stroke-width="1" />
<line x1="457.60" y1="347.40" x2="457.60" y2="349.80" stroke="#222" stroke-width="1" />
<line x1="516.60" y1="347.40" x2="516.60" y2="349.80" stroke="#222" stroke-width="1" />
<rect x="456.50" y="206.30" width="3.70" height="4.40" fill="#858585" stroke="#111" stroke-width="0.8" />
<text x="461.40" y="211.20" font-size="7.7" text-anchor="start" font-weight="normal" fill="#111" stroke="#111" stroke-width="0.22" letter-spacing="-0.7" word-spacing="0.55">No AGP</text>
<rect x="456.50" y="218.30" width="3.70" height="4.40" fill="#1c1c1c" stroke="#111" stroke-width="0.8" />
<text x="461.40" y="223.20" font-size="7.7" text-anchor="start" font-weight="normal" fill="#111" stroke="#111" stroke-width="0.22" letter-spacing="-0.7" word-spacing="0.55">0.1 mg / mL AGP</text>
<rect x="456.50" y="230.30" width="3.70" height="4.40" fill="#cfcfcf" stroke="#111" stroke-width="0.8" />
<text x="461.40" y="235.20" font-size="7.7" text-anchor="start" font-weight="normal" fill="#111" stroke="#111" stroke-width="0.22" letter-spacing="-0.7" word-spacing="0.55">1 mg / mL AGP</text>
<rect x="456.50" y="242.30" width="3.70" height="4.40" fill="#2e2e2e" stroke="#111" stroke-width="0.8" />
<text x="461.40" y="247.20" font-size="7.7" text-anchor="start" font-weight="normal" fill="#111" stroke="#111" stroke-width="0.22" letter-spacing="-0.7" word-spacing="0.55">5 mg / mL AGP</text>
<text x="369.30" y="364.90" font-size="8.7" text-anchor="middle" font-weight="normal" fill="#111" stroke="#111" stroke-width="0.2" letter-spacing="-0.45">0.1 uM</text>
<text x="429.00" y="364.90" font-size="8.7" text-anchor="middle" font-weight="normal" fill="#111" stroke="#111" stroke-width="0.2" letter-spacing="-0.45">1 uM</text>
<text x="488.10" y="364.90" font-size="8.7" text-anchor="middle" font-weight="normal" fill="#111" stroke="#111" stroke-width="0.2" letter-spacing="-0.45">10 uM</text>
</g>
</svg></body></html>
